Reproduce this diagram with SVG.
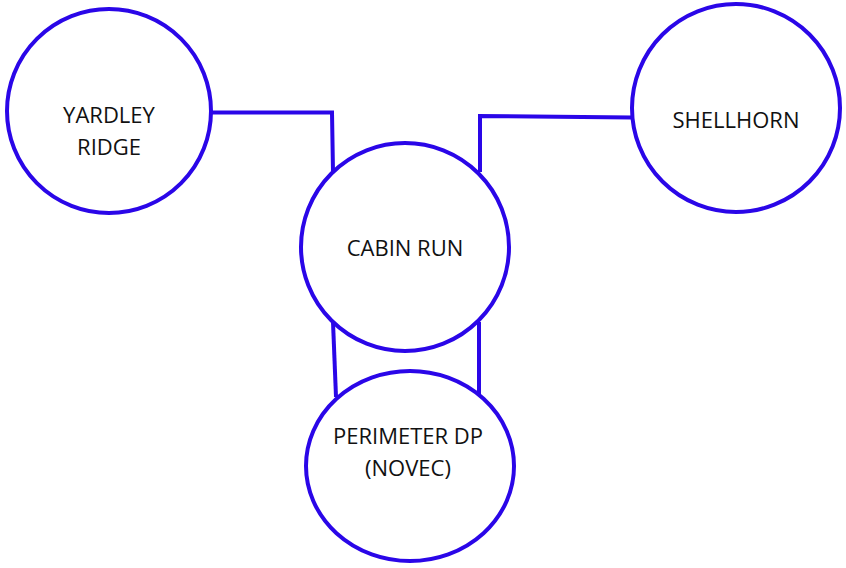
<svg xmlns="http://www.w3.org/2000/svg" width="846" height="568" viewBox="0 0 846 568">
<style>
.node{fill:#ffffff;stroke:#2A06E8;stroke-width:4}
.edge{fill:none;stroke:#2A06E8;stroke-width:4}
.lbl{font-family:"Open Sans","Noto Sans",sans-serif;font-size:22px;fill:#111111;text-anchor:middle}
</style>
<rect width="846" height="568" fill="#ffffff"/>
<g id="connectors">
<polyline class="edge" points="211,112.5 332,112.5 333,172"/>
<polyline class="edge" points="632,117.5 480,116 480,172"/>
<line class="edge" x1="333" y1="322" x2="336" y2="397"/>
<line class="edge" x1="479" y1="322" x2="479" y2="395"/>
</g>
<g id="yardley-ridge">
<circle class="node" cx="109" cy="111" r="102"/>
<text class="lbl" x="109" y="123">YARDLEY</text>
<text class="lbl" x="109" y="155">RIDGE</text>
</g>
<g id="shellhorn">
<circle class="node" cx="736" cy="108" r="104"/>
<text class="lbl" x="736" y="128">SHELLHORN</text>
</g>
<g id="cabin-run">
<circle class="node" cx="405" cy="247" r="104"/>
<text class="lbl" x="405" y="256">CABIN RUN</text>
</g>
<g id="perimeter-dp">
<ellipse class="node" cx="410" cy="466" rx="104" ry="95"/>
<text class="lbl" x="408" y="444">PERIMETER DP</text>
<text class="lbl" x="408" y="476">(NOVEC)</text>
</g>
</svg>
